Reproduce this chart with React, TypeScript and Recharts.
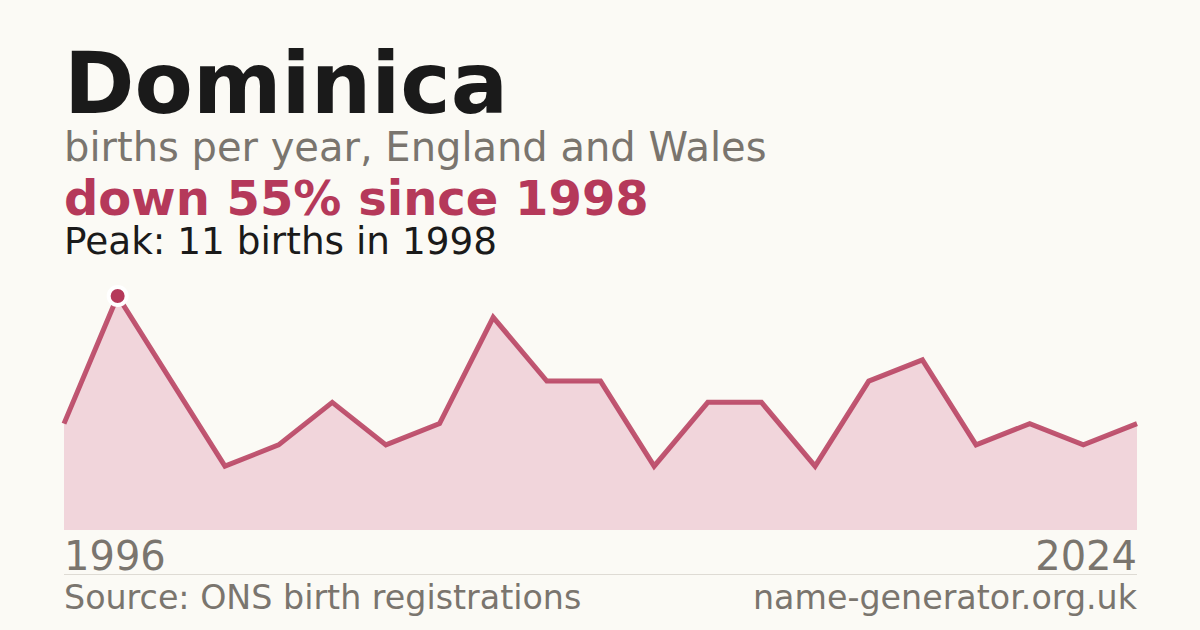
import React from 'react';
import { AreaChart, Area, XAxis, YAxis } from 'recharts';

const years = [1996, 1998, 1999, 2000, 2002, 2003, 2004, 2005, 2006, 2008, 2009, 2011, 2012, 2013, 2015, 2016, 2018, 2019, 2020, 2022, 2024];
const births = [5, 11, 7, 3, 4, 6, 4, 5, 10, 7, 7, 3, 6, 6, 3, 7, 8, 4, 5, 4, 5];
const axisTicks = [years[0], years[years.length - 1]];

const data = years.map((year, i) => ({ year, births: births[i] }));
const peakIndex = births.indexOf(Math.max(...births));

const FONT = '"DejaVu Sans", sans-serif';
const RED = '#b5395a';
const GREY = '#7a756e';

const PeakDot = (props: any) => {
  const { cx, cy, index } = props;
  if (index !== peakIndex) return <g key={`d${index}`} />;
  return <circle key={`d${index}`} cx={cx} cy={cy} r={9} fill={RED} stroke="#ffffff" strokeWidth={4} />;
};

const YearTick = (props: any) => {
  const { x, y, payload } = props;
  const first = payload.value === axisTicks[0];
  return (
    <text x={x} y={y + 40} textAnchor={first ? 'start' : 'end'} fill={GREY} fontSize={40} fontFamily={FONT}>
      {payload.value}
    </text>
  );
};

const App: React.FC = () => {
  return (
    <div style={{ position: 'fixed', top: 0, left: 0, width: 1200, height: 630, background: '#fbfaf5', overflow: 'hidden' }}>
      <svg width={1200} height={630} style={{ position: 'absolute', top: 0, left: 0 }}>
        <text x={64} y={113} fontFamily={FONT} fontWeight="bold" fontSize={85} fill="#1a1a1a">Dominica</text>
        <text x={64} y={161} fontFamily={FONT} fontSize={40} fill={GREY}>births per year, England and Wales</text>
        <text x={64} y={215} fontFamily={FONT} fontWeight="bold" fontSize={48} fill={RED}>down 55% since 1998</text>
        <text x={64} y={254} fontFamily={FONT} fontSize={37.4} fill="#1a1a1a">Peak: 11 births in 1998</text>
        <line x1={64} x2={1137} y1={574.5} y2={574.5} stroke="#dedbd4" strokeWidth={1} />
        <text x={64} y={609} fontFamily={FONT} fontSize={33.3} fill={GREY}>Source: ONS birth registrations</text>
        <text x={1137} y={609} textAnchor="end" fontFamily={FONT} fontSize={33.3} fill={GREY}>name-generator.org.uk</text>
      </svg>
      <div style={{ position: 'absolute', top: 0, left: 0 }}>
        <AreaChart width={1200} height={630} data={data} margin={{ top: 296, right: 63, bottom: 70, left: 64 }}>
          <XAxis
            dataKey="year"
            ticks={axisTicks}
            interval={0}
            axisLine={false}
            tickLine={false}
            tickSize={0}
            tickMargin={0}
            height={30}
            tick={<YearTick />}
          />
          <YAxis hide domain={[0, 11]} />
          <Area
            type="linear"
            dataKey="births"
            stroke={RED}
            strokeWidth={5}
            strokeOpacity={0.85}
            fill="#f1d5db"
            fillOpacity={1}
            dot={<PeakDot />}
            activeDot={false}
            isAnimationActive={false}
          />
        </AreaChart>
      </div>
    </div>
  );
};

export default App;
